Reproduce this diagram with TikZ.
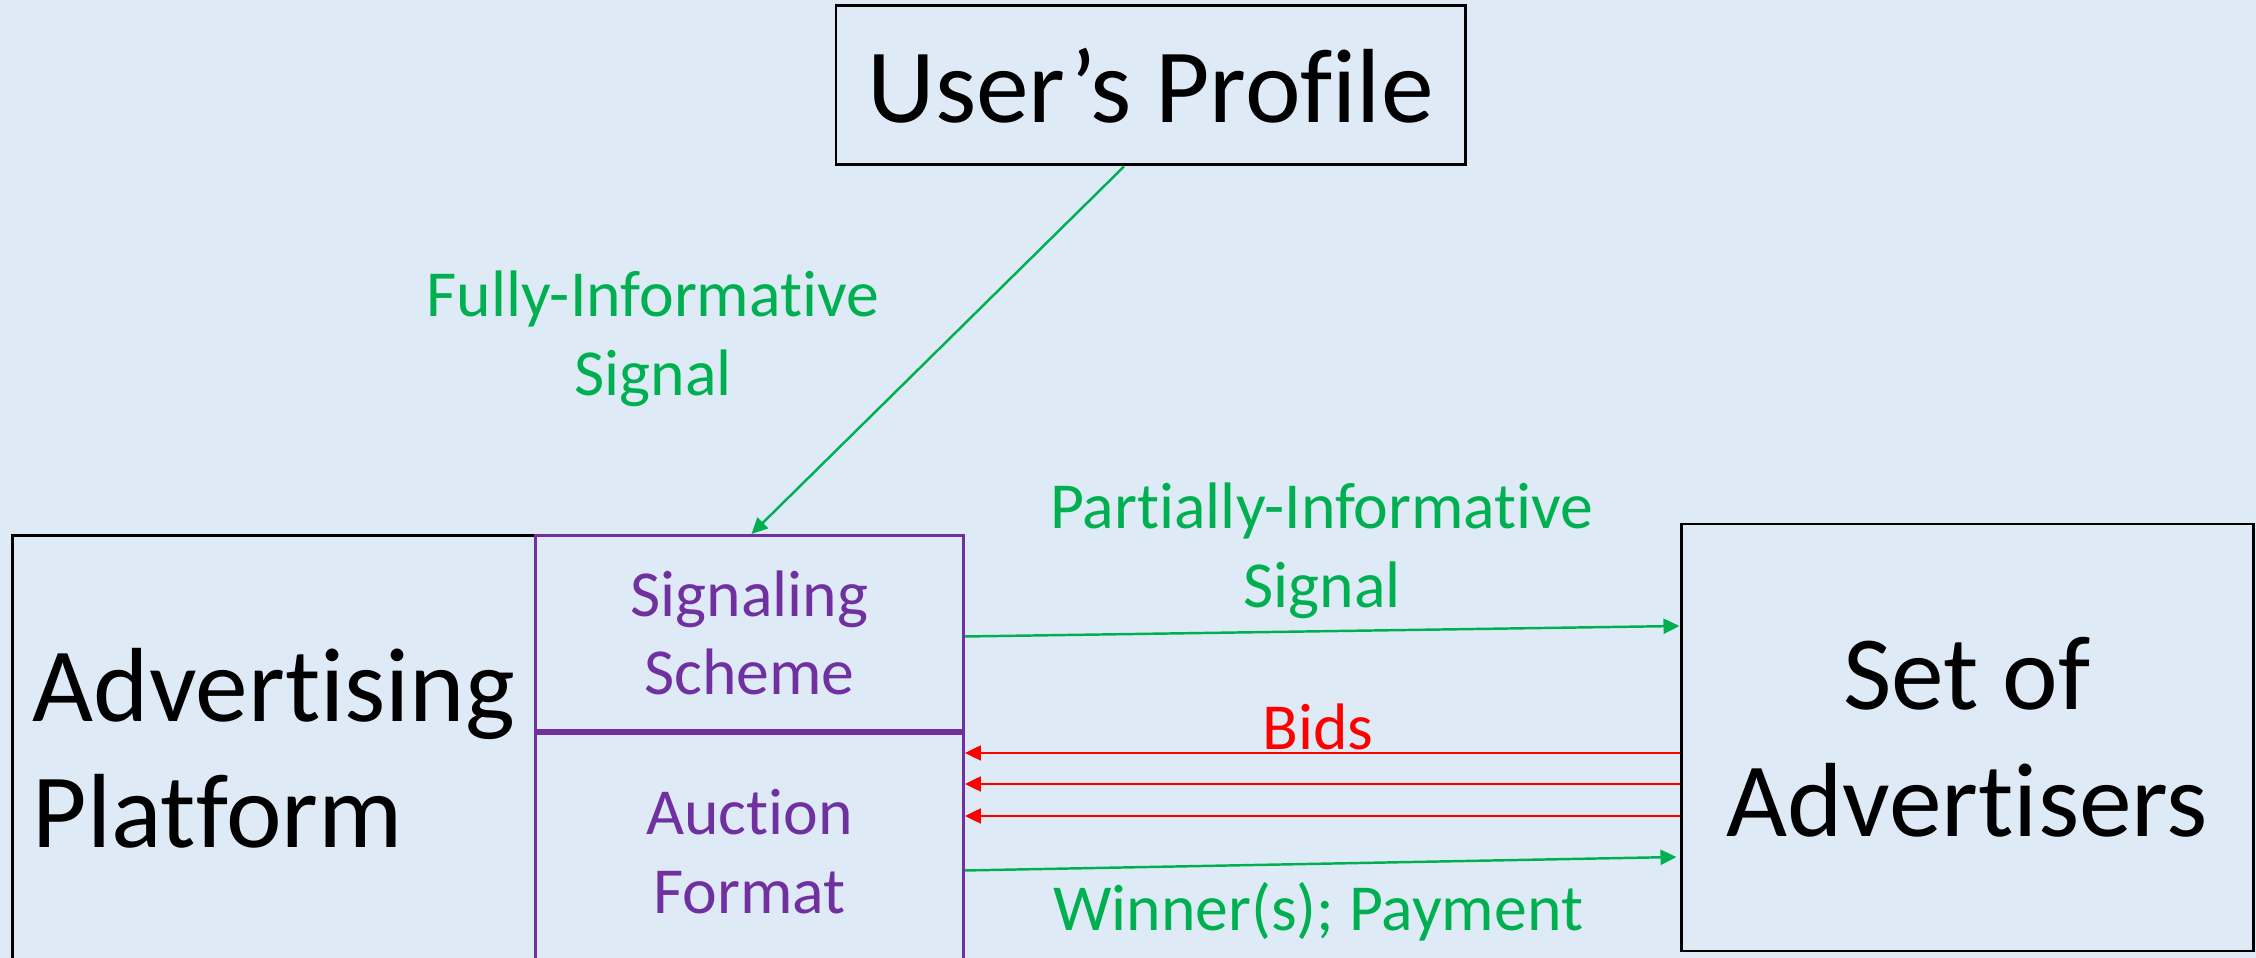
\documentclass[tikz,border=0pt]{standalone}
\usepackage{fontspec}
\setmainfont{Carlito}[Ligatures={TeX,NoCommon}]
\usetikzlibrary{arrows.meta,positioning}
\definecolor{bgblue}{HTML}{DEEBF7}
\definecolor{sigGreen}{HTML}{00B050}
\definecolor{schemePurple}{HTML}{7030A0}

\begin{document}
\begin{tikzpicture}[
    box/.style={draw, line width=0.85pt, inner sep=0pt},
    bigtxt/.style={font=\fontsize{30}{36}\selectfont},
    midtxt/.style={font=\fontsize{18.7}{22.4}\selectfont, align=center, inner sep=0pt},
    purplebox/.style={draw=schemePurple, line width=0.85pt, text=schemePurple, midtxt},
    sig/.style={draw=sigGreen, line width=0.7pt, -{Triangle[length=0.16cm,width=0.15cm]}},
    bid/.style={draw=red, line width=0.7pt, -{Triangle[length=0.16cm,width=0.15cm]}}
    ]
    \fill[bgblue] (0,0) rectangle (22.56,9.58);
    \useasboundingbox (0,0) rectangle (22.56,9.58);

    \node[box, minimum width=6.29cm, minimum height=1.59cm, bigtxt] (profile) at (11.505,8.725) {User’s Profile};

    \node[box, minimum width=9.51cm, minimum height=4.4cm, anchor=north west] (platform) at (0.11,4.24) {};
    \node[bigtxt, align=left, anchor=west, inner sep=0pt] (platname) at ([xshift=0.21cm, yshift=0.07cm]platform.west) {Advertising\\Platform};
    \node[purplebox, minimum width=4.28cm, minimum height=1.95cm, anchor=north west] (signaling) at (5.34,4.24) {Signaling\\Scheme};
    \node[purplebox, minimum width=4.28cm, minimum height=2.36cm, anchor=north] (auction) at (signaling.south) {Auction\\Format};

    \node[box, minimum width=5.72cm, minimum height=4.27cm, bigtxt, align=center] (advertisers) at (19.67,2.205) {Set of\\Advertisers};

    \node[midtxt, text=sigGreen] (fullylabel) at (6.53,6.195) {Fully-Informative\\Signal};
    \node[midtxt, text=sigGreen] (partiallabel) at (13.22,4.075) {Partially-Informative\\Signal};
    \node[midtxt, text=red] (bidslabel) at (13.18,2.31) {Bids};
    \node[midtxt, text=sigGreen] (winnerlabel) at (13.18,0.46) {Winner(s); Payment};

    \draw[sig] ([xshift=-0.265cm]profile.south) -- ([xshift=0.02cm]signaling.north);
    \draw[sig] ([yshift=-0.035cm]signaling.east) -- ([yshift=1.115cm]advertisers.west);
    \draw[bid] ([yshift=-0.155cm]advertisers.west) -- ([yshift=-0.155cm]advertisers.west -| auction.east);
    \draw[bid] ([yshift=-0.465cm]advertisers.west) -- ([yshift=-0.465cm]advertisers.west -| auction.east);
    \draw[bid] ([yshift=-0.785cm]advertisers.west) -- ([yshift=-0.785cm]advertisers.west -| auction.east);
    \draw[sig] ([yshift=-0.19cm]auction.east) -- ([xshift=-0.03cm, yshift=-1.195cm]advertisers.west);
\end{tikzpicture}
\end{document}
